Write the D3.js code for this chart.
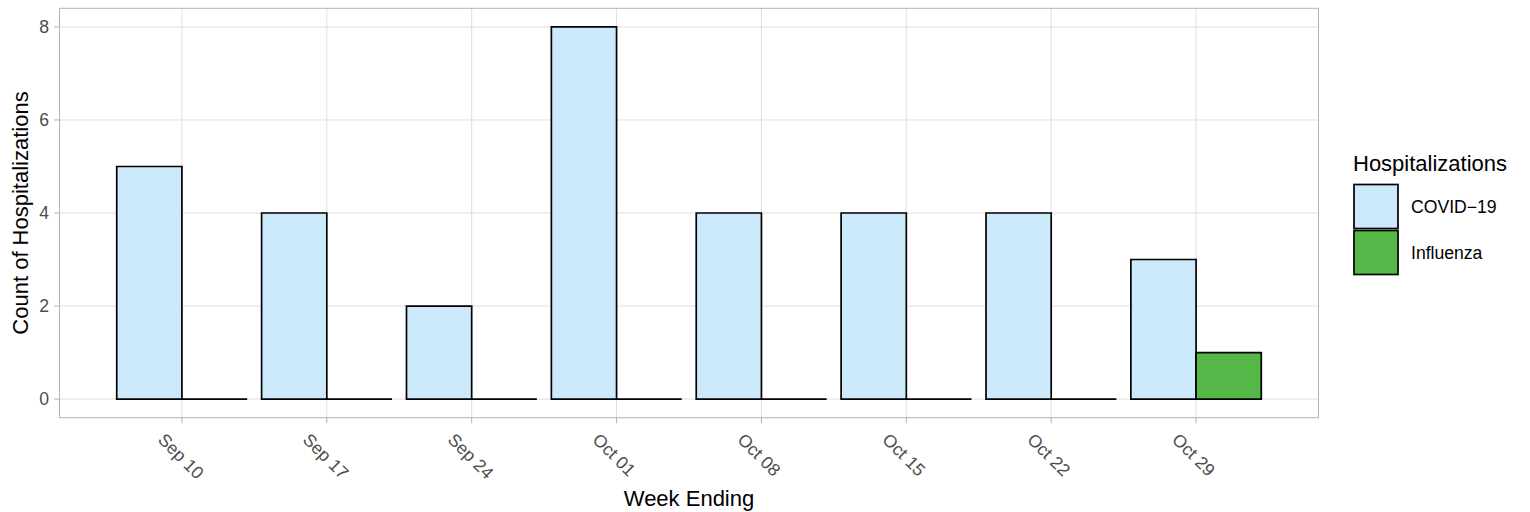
<!DOCTYPE html>
<html lang="en">
<head>
<meta charset="UTF-8">
<title>Hospitalizations</title>
<script src="https://cdn.jsdelivr.net/npm/d3@7"></script>
<style>
  body { margin: 0; background: #fff; }
  text { font-family: "Liberation Sans", Arial, sans-serif; }
</style>
</head>
<body>
<script>
// data
var weeks = ["2023-09-10", "2023-09-17", "2023-09-24", "2023-10-01", "2023-10-08", "2023-10-15", "2023-10-22", "2023-10-29"];
var series = ["COVID\u221219", "Influenza"];
var covid = [5, 4, 2, 8, 4, 4, 4, 3];
var influenza = [0, 0, 0, 0, 0, 0, 0, 1];
var yTicks = [0, 2, 4, 6, 8];
var colors = ["#cdeafc", "#55b748"];

var W = 1530, H = 512;
var panel = {left: 59.5, right: 1318.5, top: 8.3, bottom: 417.7};
var tickFont = "17.6px", titleFont = "22px";

var parse = d3.timeParse("%Y-%m-%d");
var dates = weeks.map(parse);
var day = 864e5;
var barW = 0.9 * 7 * day;           // dodge width
var lo = +dates[0] - barW / 2, hi = +dates[dates.length - 1] + barW / 2;
var pad = (hi - lo) * 0.05;

var x = d3.scaleTime()
    .domain([new Date(lo - pad), new Date(hi + pad)])
    .range([panel.left, panel.right]);
var y = d3.scaleLinear()
    .domain([-0.4, 8.4])
    .range([panel.bottom, panel.top]);

var svg = d3.select("body").append("svg").attr("width", W).attr("height", H);

// grid
var grid = svg.append("g").attr("stroke", "#dedede").attr("stroke-width", 1);
grid.selectAll(".gy").data(yTicks).enter().append("line")
    .attr("x1", panel.left).attr("x2", panel.right)
    .attr("y1", function(d) { return y(d); }).attr("y2", function(d) { return y(d); });
grid.selectAll(".gx").data(dates).enter().append("line")
    .attr("y1", panel.top).attr("y2", panel.bottom)
    .attr("x1", function(d) { return x(d); }).attr("x2", function(d) { return x(d); });

// bars (paths so that zero-height bars still show their outline)
var rows = [];
dates.forEach(function(d, i) {
    rows.push({date: d, k: 0, v: covid[i]});
    rows.push({date: d, k: 1, v: influenza[i]});
});
var half = barW / 2;
svg.append("g").selectAll("path").data(rows).enter().append("path")
    .attr("d", function(d) {
        var x0 = x(new Date(+d.date - half + d.k * half)),
            w = x(new Date(+d.date + half)) - x(d.date),
            y0 = y(0), y1 = y(d.v);
        return "M" + x0 + "," + y0 + "H" + (x0 + w) + "V" + y1 + "H" + x0 + "Z";
    })
    .attr("fill", function(d) { return colors[d.k]; })
    .attr("stroke", "#000").attr("stroke-width", 1.7)
    .attr("stroke-linejoin", "miter");

// panel border
svg.append("rect")
    .attr("x", panel.left).attr("y", panel.top)
    .attr("width", panel.right - panel.left).attr("height", panel.bottom - panel.top)
    .attr("fill", "none").attr("stroke", "#b3b3b3").attr("stroke-width", 1);

// y axis
var yAxis = svg.append("g");
yAxis.selectAll("line").data(yTicks).enter().append("line")
    .attr("x1", panel.left - 5.5).attr("x2", panel.left)
    .attr("y1", function(d) { return y(d); }).attr("y2", function(d) { return y(d); })
    .attr("stroke", "#b3b3b3");
yAxis.selectAll("text").data(yTicks).enter().append("text")
    .attr("x", panel.left - 10.5).attr("y", function(d) { return y(d); })
    .attr("dy", "0.36em").attr("text-anchor", "end")
    .attr("fill", "#4d4d4d").style("font-size", tickFont)
    .text(function(d) { return d; });

// x axis
var fmt = d3.timeFormat("%b %d");
var xAxis = svg.append("g");
xAxis.selectAll("line").data(dates).enter().append("line")
    .attr("x1", function(d) { return x(d); }).attr("x2", function(d) { return x(d); })
    .attr("y1", panel.bottom).attr("y2", panel.bottom + 5.5)
    .attr("stroke", "#b3b3b3");
xAxis.selectAll("text").data(dates).enter().append("text")
    .attr("transform", function(d) { return "translate(" + (x(d) - 25) + "," + (panel.bottom + 23) + ") rotate(45)"; })
    .attr("fill", "#4d4d4d").style("font-size", tickFont)
    .text(function(d) { return fmt(d); });

// axis titles
svg.append("text")
    .attr("x", (panel.left + panel.right) / 2).attr("y", 506)
    .attr("text-anchor", "middle").style("font-size", titleFont)
    .text("Week Ending");
svg.append("text")
    .attr("transform", "translate(28," + ((panel.top + panel.bottom) / 2) + ") rotate(-90)")
    .attr("text-anchor", "middle").style("font-size", titleFont)
    .text("Count of Hospitalizations");

// legend
var lg = svg.append("g").attr("transform", "translate(1353,0)");
lg.append("text").attr("x", 0).attr("y", 171).style("font-size", titleFont).text("Hospitalizations");
var keys = lg.selectAll("g").data(series).enter().append("g")
    .attr("transform", function(d, i) { return "translate(0," + (184 + i * 46) + ")"; });
keys.append("rect").attr("x", 1).attr("y", 0.5).attr("width", 44).attr("height", 44)
    .attr("fill", function(d, i) { return colors[i]; })
    .attr("stroke", "#000").attr("stroke-width", 1.7);
keys.append("text").attr("x", 58).attr("y", 23).attr("dy", "0.36em")
    .style("font-size", tickFont).text(function(d) { return d; });
</script>
</body>
</html>
